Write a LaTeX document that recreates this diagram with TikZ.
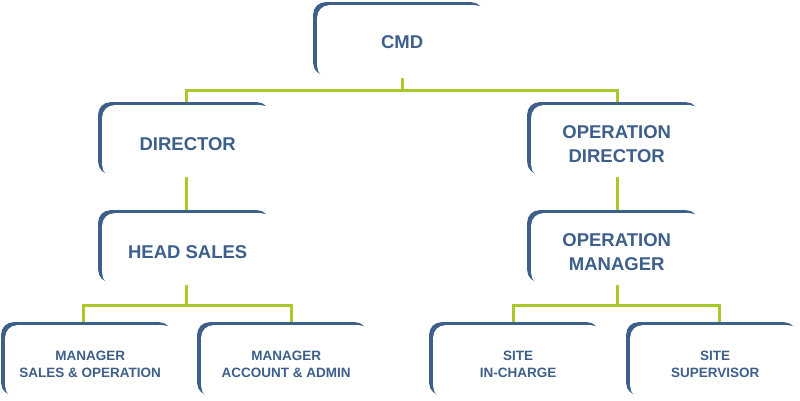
\documentclass[tikz,border=0pt]{standalone}
\usepackage{fontspec}
\setmainfont{Liberation Sans}
\usetikzlibrary{shadows,backgrounds}
\definecolor{boxblue}{HTML}{3D5F8A}
\definecolor{linegreen}{HTML}{A9C82B}
\begin{document}
\begin{tikzpicture}[x=1pt,y=-1pt,
  orgbox/.style={draw=none, fill=white, rounded corners=12pt, anchor=north west,
    inner sep=0pt, minimum width=171pt, minimum height=72pt,
    general shadow={shadow xshift=-4pt, shadow yshift=3pt, fill=boxblue}},
  smallbox/.style={orgbox, minimum width=170pt, minimum height=73pt},
  bigtxt/.style={align=center, text=boxblue, inner sep=0pt,
    font=\bfseries\fontsize{18.5}{24}\selectfont},
  smalltxt/.style={bigtxt, font=\bfseries\fontsize{13.5}{17}\selectfont},
  conn/.style={draw=linegreen, line width=3pt}]
\useasboundingbox (0,0) rectangle (800,400);

\node[orgbox, minimum width=170pt, minimum height=73pt] (cmd) at (317,5) {};
\node[orgbox] (dir) at (102,105) {};
\node[orgbox] (opdir) at (531,105) {};
\node[orgbox] (hs) at (102,213) {};
\node[orgbox] (opm) at (531,213) {};
\node[smallbox] (b1) at (5,325) {};
\node[smallbox] (b2) at (201,325) {};
\node[smallbox] (b3) at (433,325) {};
\node[smallbox] (b4) at (630,325) {};

\node[bigtxt] (tcmd) at ([yshift=-0.5pt]cmd.center) {CMD};
\node[bigtxt] (tdir) at ([yshift=-3pt]dir.center) {DIRECTOR};
\node[bigtxt] (topdir) at ([yshift=-3pt]opdir.center) {OPERATION\\DIRECTOR};
\node[bigtxt] (ths) at ([yshift=-3pt]hs.center) {HEAD SALES};
\node[bigtxt] (topm) at ([yshift=-3pt]opm.center) {OPERATION\\MANAGER};
\node[smalltxt] (tb1) at ([yshift=-2.5pt]b1.center) {MANAGER\\SALES \& OPERATION};
\node[smalltxt] (tb2) at ([yshift=-2.5pt]b2.center) {MANAGER\\ACCOUNT \& ADMIN};
\node[smalltxt] (tb3) at ([yshift=-2.5pt]b3.center) {SITE\\IN-CHARGE};
\node[smalltxt] (tb4) at ([yshift=-2.5pt]b4.center) {SITE\\SUPERVISOR};

\begin{scope}[on background layer]
\draw[conn] (cmd.south) -- ++(0,12) coordinate (j1);
\draw[conn] ([xshift=-1.5pt]dir.north) |- (j1) -| ([xshift=0.5pt]opdir.north);
\draw[conn] ([xshift=-1.5pt]dir.south) -- ([xshift=-1.5pt]hs.north);
\draw[conn] ([xshift=0.5pt]opdir.south) -- ([xshift=0.5pt]opm.north);
\draw[conn] ([xshift=-1.5pt]hs.south) -- ++(0,20) coordinate (j2);
\draw[conn] ([xshift=-7pt]b1.north) |- (j2) -| ([xshift=5pt]b2.north);
\draw[conn] ([xshift=0.5pt]opm.south) -- ++(0,20) coordinate (j3);
\draw[conn] ([xshift=-5pt]b3.north) |- (j3) -| ([xshift=4pt]b4.north);
\end{scope}
\end{tikzpicture}
\end{document}
